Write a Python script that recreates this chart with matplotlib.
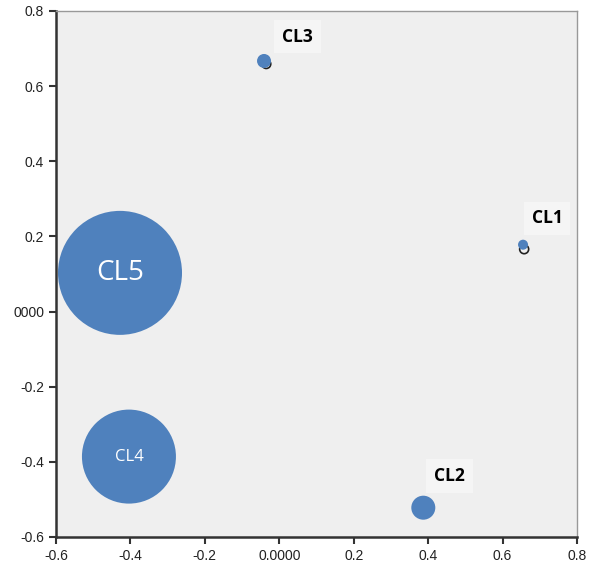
import matplotlib
matplotlib.use("Agg")
import matplotlib.pyplot as plt

labels = ["CL1", "CL2", "CL3", "CL4", "CL5"]
x_vals = [0.655, 0.387, -0.041, -0.404, -0.428]
y_vals = [0.178, -0.522, 0.667, -0.386, 0.103]
bubble = [5, 12, 7, 47, 62]  # relative bubble radius
ring_labels = ["CL1", "CL3"]
ring_x = [0.658, -0.035]
ring_y = [0.166, 0.659]

xticks = [-0.6, -0.4, -0.2, 0.0, 0.2, 0.4, 0.6, 0.8]
xtick_labels = ["-0.6", "-0.4", "-0.2", "0.0000", "0.2", "0.4", "0.6", "0.8"]
yticks = [-0.6, -0.4, -0.2, 0.0, 0.2, 0.4, 0.6, 0.8]
ytick_labels = ["-0.6", "-0.4", "-0.2", "0000", "0.2", "0.4", "0.6", "0.8"]

fig = plt.figure(figsize=(5.89, 5.65), dpi=100)
ax = fig.add_axes([56/589, 1-537/565, (577-56)/589, (537-11)/565])
ax.set_facecolor("#EFEFEF")
ax.set_xlim(-0.6, 0.8)
ax.set_ylim(-0.6, 0.8)

blue = "#4F81BD"
sizes = [(1.44 * r) ** 2 for r in bubble]
ax.scatter(ring_x, ring_y, s=[(1.44 * 4.5) ** 2] * len(ring_x), facecolors="none",
           edgecolors="#222222", linewidths=1.2, zorder=2)
ax.scatter(x_vals, y_vals, s=sizes, color=blue, edgecolors="none", zorder=3)

offsets = {"CL1": (0.065, 0.07), "CL2": (0.07, 0.085), "CL3": (0.09, 0.065)}
for lab, x, y in zip(labels, x_vals, y_vals):
    if lab in offsets:
        dx, dy = offsets[lab]
        ax.text(x + dx, y + dy, lab, ha="center", va="center", fontsize=12.5,
                fontweight="bold", color="black", zorder=4, family="Open Sans",
                bbox=dict(boxstyle="square,pad=0.45", facecolor="#F5F5F5",
                          edgecolor="none"))
    elif lab == "CL5":
        ax.text(x, y, lab, ha="center", va="center", fontsize=20, color="white",
                zorder=4, family="Open Sans")
    else:
        ax.text(x, y, lab, ha="center", va="center", fontsize=12, color="white",
                zorder=4, family="Open Sans")

ax.set_xticks(xticks)
ax.set_xticklabels(xtick_labels)
ax.set_yticks(yticks)
ax.set_yticklabels(ytick_labels)
ax.tick_params(direction="out", length=5, width=1.5, labelsize=10, color="#333333",
               labelcolor="#222222")
for t in ax.get_xticklabels() + ax.get_yticklabels():
    t.set_family("Liberation Sans")
for s in ["left", "bottom"]:
    ax.spines[s].set_linewidth(1.8)
    ax.spines[s].set_color("#333333")
for s in ["top", "right"]:
    ax.spines[s].set_linewidth(1.0)
    ax.spines[s].set_color("#999999")

fig.savefig("out.png", dpi=100)
